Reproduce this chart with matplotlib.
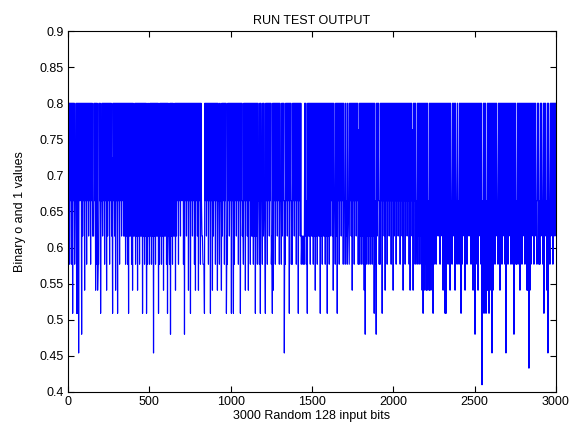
import numpy as np
import matplotlib.pyplot as plt

plt.rcParams['font.family'] = ['Liberation Sans', 'DejaVu Sans']

# levels the run test output takes
levels = {'a': 0.800, 'b': 0.763, 'c': 0.724, 'd': 0.696, 'e': 0.665,
          'f': 0.640, 'g': 0.616, 'h': 0.596, 'i': 0.577, 'j': 0.541,
          'k': 0.509, 'l': 0.480, 'm': 0.454, 'n': 0.433, 'o': 0.410}

# one letter per sample, left to right (two samples per screen column)
codes = (
    "agaiaeaiakaeaieeakak" "amaeaealagaeajaeaiae" "agaeaiaeagggaeajaiaj"
    "iiaeakeeagaeaiaeajag" "aeaiaeagckaeagajaeak" "aeaiaeagaeagagaiagai"
    "akagagaiajagbgaiagaj" "agaiagagakagaiagakei" "ageiagaiagamagaiagag"
    "akbiagaiagajagagaiak" "aggialagaiagbgajagae" "aiaeagaeaeaialaeagae"
    "ajaeakaeagaeaiajaeag" "ajaeaiaeggiiikaeagae" "aiaeakaeajagaeaiaeaj"
    "aeeiaeejagaeaiaeakgi" "aeagaeakaeakaiaeagae" "aiaeakaeageiaeajaeag"
    "ajaeaiagagaiagakagai" "aeeiakaeeiagaegkaeai" "aeagaeaigkajaeaiaeag"
    "aeaiaeeiagaeameiaeag" "aeakaeaieiaeagaeaiae" "akaeagaiggiigiagaiek"
    "agagaiagagaiagajagai" "agagakagaiagagaiagak" "agaiagaeagajaeeiagak"
    "aeaiaeagaeaiaeeiagei" "aegiaeagajaeaiaeagae" "aibiagaiagaiajalaiag"
    "aiagaiagaiagakaielag" "aeaieiaeakaeagajaeai" "aeagaeaiaeajagaeaiae"
    "agaeaiaeagajaeaiaeag" "aeaiajaeagbjaeaiagei" "agaiagaiajakajaiajaj"
    "aiejajaiajakaiagaiae" "agaeaiaeagajaeakakae" "aiaeajaeeiagaeajaeei"
    "ageiaeakaiaeagajaeai" "aeagaeaiaeajagalaeai" "ajaeagaiaoejakajakej"
    "ajakajaiamajagaiagae" "eiagajagaiagaeaiamag" "aiagaeaiagaialagaiei"
    "agaiajagaiagaeaiagaj" "ajanajaiagaeaiaeagei" "aeaieiagaeeiakaeagej"
    "amaeeiagaeaiaeagae"
)

values = np.array([levels[c] for c in codes])
bits = np.linspace(1, 3000, len(values))

fig = plt.figure(figsize=(5.69, 4.30), dpi=100)
ax = fig.add_axes([0.1195, 0.0884, 0.8575, 0.8395])
ax.plot(bits, values, color=(0, 0, 1), linewidth=0.85)

ax.set_xlim(0, 3000)
ax.set_ylim(0.4, 0.9)
ax.set_xticks(np.arange(0, 3001, 500))
ax.set_yticks(np.arange(0.4, 0.901, 0.05))
ax.set_yticklabels(['0.4', '0.45', '0.5', '0.55', '0.6', '0.65',
                    '0.7', '0.75', '0.8', '0.85', '0.9'])
ax.tick_params(direction='in', length=4, top=True, right=True,
               labelsize=9, pad=3)

ax.set_title('RUN TEST OUTPUT', fontsize=9, pad=5)
ax.set_xlabel('3000 Random 128 input bits', fontsize=9, labelpad=1)
ax.set_ylabel('Binary o and 1 values', fontsize=9, labelpad=10)

plt.savefig('out.png', dpi=100)
